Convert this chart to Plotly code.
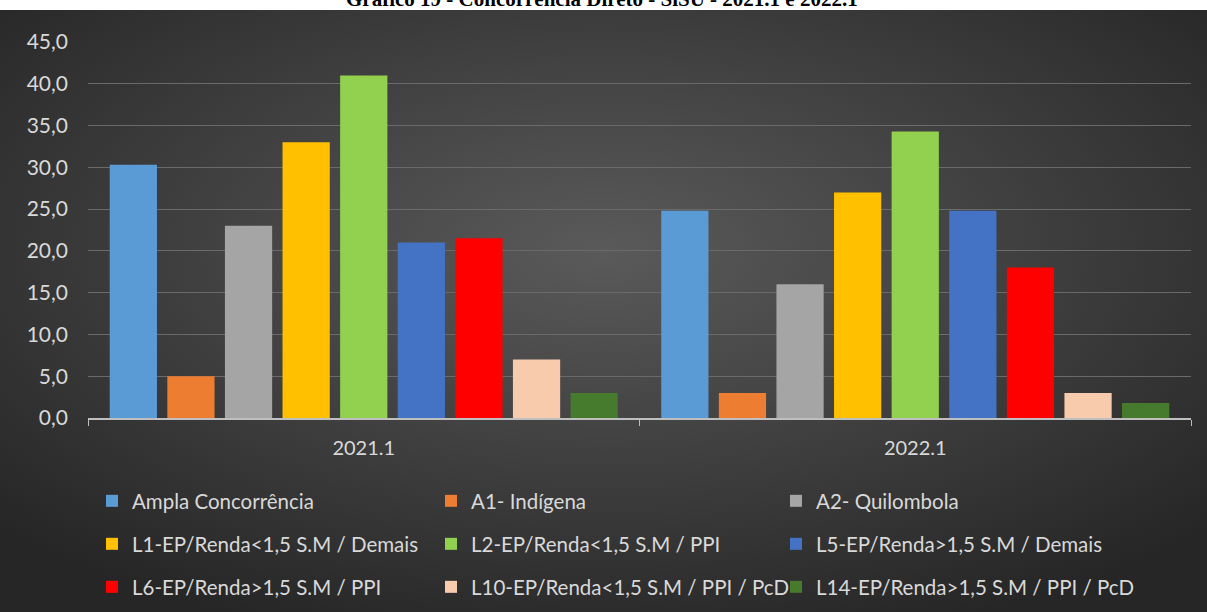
import base64
import plotly.graph_objects as go

periodos = ["2021.1", "2022.1"]
categorias = [
    "Ampla Concorrência",
    "A1- Indígena",
    "A2- Quilombola",
    "L1-EP/Renda<1,5 S.M / Demais",
    "L2-EP/Renda<1,5 S.M / PPI",
    "L5-EP/Renda>1,5 S.M / Demais",
    "L6-EP/Renda>1,5 S.M / PPI",
    "L10-EP/Renda<1,5 S.M / PPI / PcD",
    "L14-EP/Renda>1,5 S.M / PPI / PcD",
]
valores_2021 = [30.3, 5.0, 23.0, 33.0, 41.0, 21.0, 21.5, 7.0, 3.0]
valores_2022 = [24.8, 3.0, 16.0, 27.0, 34.3, 24.8, 18.0, 3.0, 1.8]
cores = ["#5B9BD5", "#ED7D31", "#A5A5A5", "#FFC000", "#92D050",
         "#4472C4", "#FF0000", "#F8CBAD", "#467A2C"]

W, H = 1207, 612
L, R, T, B = 88, 16, 42, 194
pw, ph = W - L - R, H - T - B

# dark radial background like the Excel style
svg = ('<svg xmlns="http://www.w3.org/2000/svg" width="1207" height="602" '
       'viewBox="0 0 1207 602" preserveAspectRatio="none"><defs>'
       '<radialGradient id="g" cx="50%" cy="40%" r="68%">'
       '<stop offset="0" stop-color="#5a5a5a"/><stop offset="1" stop-color="#262626"/>'
       '</radialGradient></defs><rect width="1207" height="602" fill="url(#g)"/></svg>')
bg_src = "data:image/svg+xml;base64," + base64.b64encode(svg.encode()).decode()

font = "Lato, 'Noto Sans', sans-serif"
txt = "#d9d9d9"

fig = go.Figure()

# legend positions (left edge of each legend box): 3 columns x 3 rows
col_x = [92, 431, 776]
row_y = [501, 544, 587]
legends = {}
for i, (nome, cor) in enumerate(zip(categorias, cores)):
    key = "legend" if i == 0 else f"legend{i + 1}"
    fig.add_trace(go.Bar(
        x=periodos,
        y=[valores_2021[i], valores_2022[i]],
        name=nome,
        marker=dict(color=cor, line=dict(width=0)),
        legend=key,
    ))
    r, c = divmod(i, 3)
    legends[key] = dict(
        x=(col_x[c] - L) / pw, xanchor="left",
        y=(T + ph - row_y[r]) / ph, yanchor="middle",
        bgcolor="rgba(0,0,0,0)", borderwidth=0,
        font=dict(family=font, size=20.5, color=txt),
        itemwidth=30,
    )

fig.update_layout(
    width=W, height=H, autosize=False,
    margin=dict(l=L, r=R, t=T, b=B, pad=0, autoexpand=False),
    paper_bgcolor="white",
    plot_bgcolor="rgba(0,0,0,0)",
    separators=", ",
    barmode="group",
    bargap=0.06,
    bargroupgap=0.18,
    showlegend=True,
    font=dict(family=font, size=20, color=txt),
    images=[dict(
        source=bg_src, xref="paper", yref="paper",
        x=-L / pw, y=1 + (T - 10) / ph,
        sizex=W / pw, sizey=(H - 10) / ph,
        xanchor="left", yanchor="top",
        sizing="stretch", layer="below",
    )],
    xaxis=dict(
        showgrid=False, showline=True, linecolor="#bfbfbf", linewidth=1.5,
        ticks="outside", tickson="boundaries", ticklen=6, tickcolor="#bfbfbf",
        tickfont=dict(family=font, size=20, color=txt),
        ticklabelstandoff=11,
    ),
    yaxis=dict(
        range=[0, 45], dtick=5, tickformat=".1f",
        showgrid=True, gridcolor="#6a6a6a", gridwidth=1,
        zeroline=False, showline=False,
        tickfont=dict(family=font, size=21, color=txt),
        ticklabelstandoff=19,
    ),
    annotations=[dict(
        text="<b>Gráfico 19 - Concorrência Direto - SiSU - 2021.1 e 2022.1</b>",
        xref="paper", yref="paper",
        x=(602 - L) / pw, y=1 + (T + 1) / ph,
        xanchor="center", yanchor="middle", showarrow=False,
        font=dict(family="Liberation Serif", size=21, color="black"),
    )],
    **legends,
)

fig.write_html(
    "out.html",
    config={"displayModeBar": False},
    post_script="document.body.style.margin='0';document.body.style.overflow='hidden';",
)
